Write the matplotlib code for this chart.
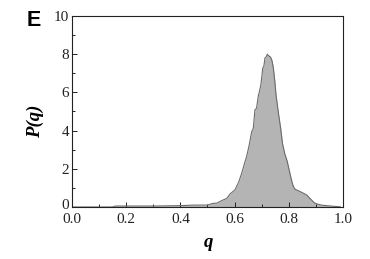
import numpy as np
import matplotlib
matplotlib.use("Agg")
import matplotlib.pyplot as plt
import matplotlib.transforms as mtransforms
from matplotlib.ticker import MultipleLocator

# distribution P(q), values
q_vals = [0.00, 0.15, 0.16, 0.30, 0.40, 0.45, 0.50, 0.52, 0.534, 0.555,
          0.571, 0.583, 0.601, 0.615, 0.626, 0.635, 0.644, 0.647, 0.654,
          0.663, 0.669, 0.675, 0.681, 0.688, 0.691, 0.697, 0.704, 0.708,
          0.712, 0.716, 0.721, 0.725, 0.728, 0.733, 0.738, 0.743, 0.749,
          0.753, 0.761, 0.770, 0.777, 0.785, 0.794, 0.802, 0.810, 0.816,
          0.823, 0.840, 0.854, 0.866, 0.878, 0.890, 0.897, 0.920, 0.940,
          0.970, 0.990]
p_vals = [0.0, 0.0, 0.05, 0.05, 0.07, 0.10, 0.10, 0.19, 0.20, 0.35,
          0.45, 0.68, 0.89, 1.30, 1.76, 2.20, 2.63, 2.81, 3.25,
          3.94, 4.12, 5.08, 5.17, 5.86, 6.00, 6.40, 7.28, 7.37,
          7.80, 7.85, 8.00, 7.92, 7.90, 7.84, 7.66, 7.28, 6.50,
          5.85, 4.99, 4.12, 3.30, 2.80, 2.40, 1.90, 1.41, 1.10,
          0.93, 0.82, 0.72, 0.63, 0.45, 0.28, 0.19, 0.10, 0.07,
          0.03, 0.01]

x_ticks = [0.0, 0.2, 0.4, 0.6, 0.8, 1.0]
y_ticks = [0, 2, 4, 6, 8, 10]

plt.rcParams["font.family"] = ["Liberation Serif", "DejaVu Serif"]


def main():
    fig = plt.figure(figsize=(3.70, 2.59), dpi=100)
    ax = fig.add_axes([0.1946, 0.2008, 0.7324, 0.7375])

    ax.fill_between(q_vals, 0, p_vals, color="#b4b4b4", linewidth=0)
    ax.plot(q_vals, p_vals, color="#6b6b6b", linewidth=0.8)

    ax.set_xlim(0, 1.0)
    ax.set_ylim(0, 10)
    ax.set_xticks(x_ticks)
    ax.set_xticklabels([f"{t:.1f}" for t in x_ticks])
    ax.set_yticks(y_ticks)
    ax.xaxis.set_minor_locator(MultipleLocator(0.1))
    ax.yaxis.set_minor_locator(MultipleLocator(1))
    ax.tick_params(which="both", direction="in", top=False, right=False,
                   labelsize=11, width=0.7, colors="#222222")
    ax.tick_params(which="major", length=3.5)
    ax.tick_params(which="minor", length=2)
    ax.tick_params(axis="x", which="major", pad=4)
    ax.tick_params(axis="y", which="major", pad=2)
    for s in ax.spines.values():
        s.set_linewidth(0.8)
        s.set_color("#222222")

    # the "0" on the y axis sits a touch higher in the original
    lbl0 = ax.get_yticklabels()[0]
    lbl0.set_transform(lbl0.get_transform() +
                       mtransforms.ScaledTranslation(0, 2 / 72, fig.dpi_scale_trans))

    ax.set_xlabel("q", fontsize=13.5, fontweight="bold", fontstyle="italic")
    ax.set_ylabel("P(q)", fontsize=13.5, fontweight="bold", fontstyle="italic")
    ax.xaxis.label.set_va("center")
    ax.yaxis.label.set_va("center")
    ax.xaxis.set_label_coords(0.505, -0.185)
    ax.yaxis.set_label_coords(-0.137, 0.45)

    fig.text(0.073, 1 - 20 / 259, "E", ha="left", va="center", fontsize=15.5,
             fontweight="bold", family=["Liberation Sans", "DejaVu Sans"])

    fig.savefig("out.png", dpi=100)


if __name__ == "__main__":
    main()
